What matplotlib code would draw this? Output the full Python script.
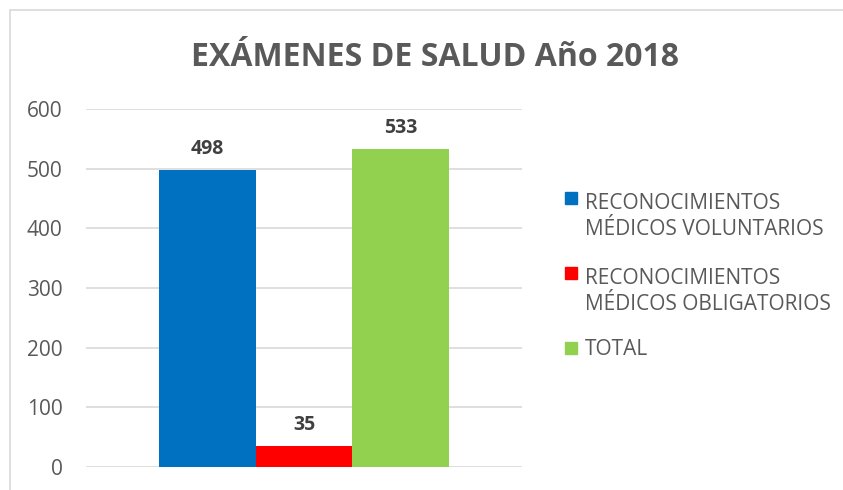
import matplotlib.pyplot as plt
from matplotlib.patches import Rectangle

series = ['RECONOCIMIENTOS\nMÉDICOS VOLUNTARIOS',
          'RECONOCIMIENTOS\nMÉDICOS OBLIGATORIOS',
          'TOTAL']
values = [498, 35, 533]
colors = ['#0070C0', '#FF0000', '#92D050']
yticks = [0, 100, 200, 300, 400, 500, 600]
title = 'EXÁMENES DE SALUD Año 2018'

plt.rcParams['font.family'] = ['Open Sans', 'DejaVu Sans']

W, H = 843, 490
fig = plt.figure(figsize=(W / 100, H / 100), dpi=100)

# chart border
fig.patches.append(Rectangle((10 / W, -0.05), 1.0, 1 - 10 / H + 0.05,
                             transform=fig.transFigure, fill=False,
                             edgecolor='#D9D9D9', linewidth=1.2))

ax = fig.add_axes([86 / W, 1 - 467 / H, (522 - 86) / W, (467 - 109) / H])

width = 1 / 3
for i, (v, c) in enumerate(zip(values, colors)):
    x = (i - 1) * width
    ax.bar(x, v, width=width, color=c, zorder=3)
    ax.text(x, v + 18, str(v), ha='center', va='bottom', fontsize=14,
            fontweight='bold', color='#404040')

ax.set_xlim(-0.75, 0.75)
ax.set_ylim(0, 600)
ax.set_yticks(yticks)
ax.set_xticks([])
ax.grid(axis='y', color='#D9D9D9', linewidth=1.2, zorder=0)
for s in ax.spines.values():
    s.set_visible(False)
ax.tick_params(axis='y', length=0, pad=17, labelsize=15, labelcolor='#595959')

fig.text(435 / W, 1 - 57 / H, title, ha='center', va='center',
         fontsize=23, fontweight='bold', color='#595959')

# legend, drawn by hand so the square sits at the first text line
leg_y = [198, 273, 348]
for name, c, y in zip(series, colors, leg_y):
    fig.patches.append(Rectangle((565 / W, 1 - (y + 6) / H), 12 / W, 12 / H,
                                 transform=fig.transFigure, color=c))
    base = y + 7 + 30 * name.count('\n')  # baseline of the last line
    fig.text(585 / W, 1 - base / H, name, ha='left', va='baseline',
             fontsize=15, color='#595959', linespacing=1.3)

fig.savefig('out.png', dpi=100)
